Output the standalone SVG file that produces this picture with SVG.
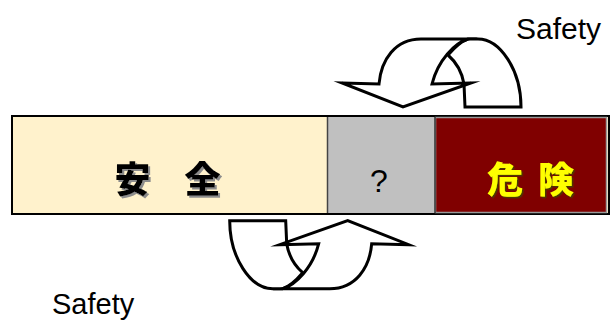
<svg xmlns="http://www.w3.org/2000/svg" width="612" height="327" viewBox="0 0 612 327">
<style>
.arrow{fill:#fff;stroke:#000;stroke-width:3;stroke-linejoin:miter;stroke-miterlimit:10}
.cjk{font-family:"Noto Sans CJK JP","Noto Sans CJK SC",sans-serif;font-weight:900;font-size:36px;text-anchor:middle}
.lat{font-family:"Liberation Sans",Arial,sans-serif}
</style>
<defs>
<filter id="sh-gray" x="-10%" y="-10%" width="130%" height="130%">
<feDropShadow dx="2" dy="2" stdDeviation="0.3" flood-color="#8c8c8c" flood-opacity="1"/>
</filter>
<filter id="sh-dark" x="-10%" y="-10%" width="130%" height="130%">
<feDropShadow dx="1.5" dy="1.5" stdDeviation="0.3" flood-color="#4a3a00" flood-opacity="1"/>
</filter>
<g id="uturn">
<path class="arrow" d="M468,39 L478,39 C500,39 521,70 521,107 L465,107 L464,84 C462,72 456,62 448,55 C454,48 462,41 468,39 Z"/>
<path class="arrow" d="M342,83 L379,84 C381,60 395,39 421,39 L468,39 C455,43 438,60 432,84 L471,83 L403,107 Z"/>
</g>
</defs>
<rect width="612" height="327" fill="#fff"/>
<g id="bar">
<rect x="12" y="116" width="597" height="98" fill="#FFF2CC" stroke="#000" stroke-width="2"/>
</g>
<g id="safe">
<rect x="13" y="117" width="315" height="96" fill="#FFF2CC"/>
<text class="cjk" x="132.5 167.5 202.5" y="193" fill="#000" filter="url(#sh-gray)">安 全</text>
</g>
<g id="unknown">
<rect x="328" y="117" width="107" height="96" fill="#C0C0C0"/>
<line x1="327.5" y1="117" x2="327.5" y2="213" stroke="#444" stroke-width="1.5"/>
<text class="lat" x="379" y="192" font-size="32" text-anchor="middle" fill="#000">?</text>
</g>
<g id="danger">
<rect x="435.5" y="117.5" width="171" height="95" fill="#800000" stroke="#999" stroke-width="1.5"/>
<line x1="435" y1="117" x2="435" y2="213" stroke="#333" stroke-width="1.5"/>
<text class="cjk" x="505 530.5 556" y="193" fill="#FFFF00" filter="url(#sh-dark)">危 険</text>
</g>
<g id="connectors">
<g id="arrow-top"><use href="#uturn"/></g>
<g id="arrow-bottom"><use href="#uturn" transform="rotate(180 375.35 163.85)"/></g>
</g>
<g id="label-top"><text class="lat" x="516" y="39" font-size="30" fill="#000">Safety</text></g>
<g id="label-bottom"><text class="lat" x="52" y="314" font-size="29" fill="#000">Safety</text></g>
</svg>
